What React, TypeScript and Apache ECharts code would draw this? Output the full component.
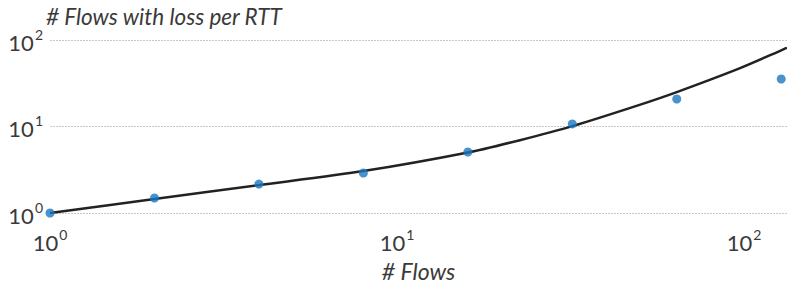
import React, { useEffect, useRef } from "react";
import * as echarts from "echarts";

const flowCounts = [1, 2, 4, 8, 16, 32, 64, 128];
const measuredLoss = [1.0, 1.49, 2.16, 2.9, 5.07, 10.7, 20.8, 35.4];
const modelFlows = [1, 2, 4, 8, 16, 22.6, 32, 50, 64, 97, 128, 133];
const modelLoss = [1.0, 1.45, 2.1, 3.05, 5.0, 6.95, 10.1, 17.8, 25.0, 47, 76, 81.5];
const xTickLabels = ["10^0", "10^1", "10^2"];
const yTickLabels = ["10^0", "10^1", "10^2"];

const TEXT = "#3a3a3a";
const FONT = "Lato";

function powLabel(v: number, labels: string[]) {
  const e = Math.log10(v);
  const r = Math.round(e);
  if (Math.abs(e - r) > 1e-6) return "";
  const lbl = labels.find((l) => l === "10^" + r);
  if (!lbl) return "";
  return "{b|10}{sup|" + r + "}";
}

const rich = {
  b: { fontSize: 22, fontFamily: FONT, color: TEXT, lineHeight: 26, verticalAlign: "bottom" },
  sup: { fontSize: 14, fontFamily: FONT, color: TEXT, lineHeight: 26, verticalAlign: "top", padding: [0, 0, 0, 1] },
};

export default function App() {
  const ref = useRef<HTMLDivElement>(null);
  useEffect(() => {
    if (!ref.current) return;
    const chart = echarts.init(ref.current, null, { renderer: "svg" });
    chart.setOption({
      animation: false,
      backgroundColor: "#ffffff",
      title: {
        text: "# Flows with loss per RTT",
        left: 41,
        top: 0,
        textStyle: { fontFamily: FONT, fontStyle: "italic", fontWeight: "normal", fontSize: 22.5, color: TEXT },
      },
      grid: { left: 50, right: 0, top: 40, bottom: 72, containLabel: false, outerBoundsMode: "none" },
      xAxis: {
        type: "log",
        logBase: 10,
        min: 1,
        max: 133,
        name: "# Flows",
        nameLocation: "middle",
        nameGap: 46,
        nameTextStyle: { fontFamily: FONT, fontStyle: "italic", fontSize: 23, color: TEXT },
        axisLine: { show: false },
        axisTick: { show: false },
        splitLine: { show: false },
        minorTick: { show: false },
        axisLabel: {
          margin: 14,
          showMaxLabel: false,
          formatter: (v: number) => powLabel(v, xTickLabels),
          rich,
        },
      },
      yAxis: {
        type: "log",
        logBase: 10,
        min: 1,
        max: 100,
        axisLine: { show: false },
        axisTick: { show: false },
        splitLine: { show: true, lineStyle: { color: "#c8c8c8", type: [2, 1], width: 1 } },
        axisLabel: {
          margin: 7,
          formatter: (v: number) => powLabel(v, yTickLabels),
          rich,
        },
      },
      series: [
        {
          type: "line",
          data: modelFlows.map((x, i) => [x, modelLoss[i]]),
          smooth: 0.25,
          symbol: "none",
          lineStyle: { color: "#222222", width: 2.5 },
          z: 2,
        },
        {
          type: "scatter",
          data: flowCounts.map((x, i) => [x, measuredLoss[i]]),
          symbolSize: 9,
          itemStyle: { color: "#1a78c2" },
          z: 3,
        },
      ],
    });
    return () => chart.dispose();
  }, []);
  return <div ref={ref} style={{ width: 787, height: 285, position: "absolute", left: 0, top: 0 }} />;
}
